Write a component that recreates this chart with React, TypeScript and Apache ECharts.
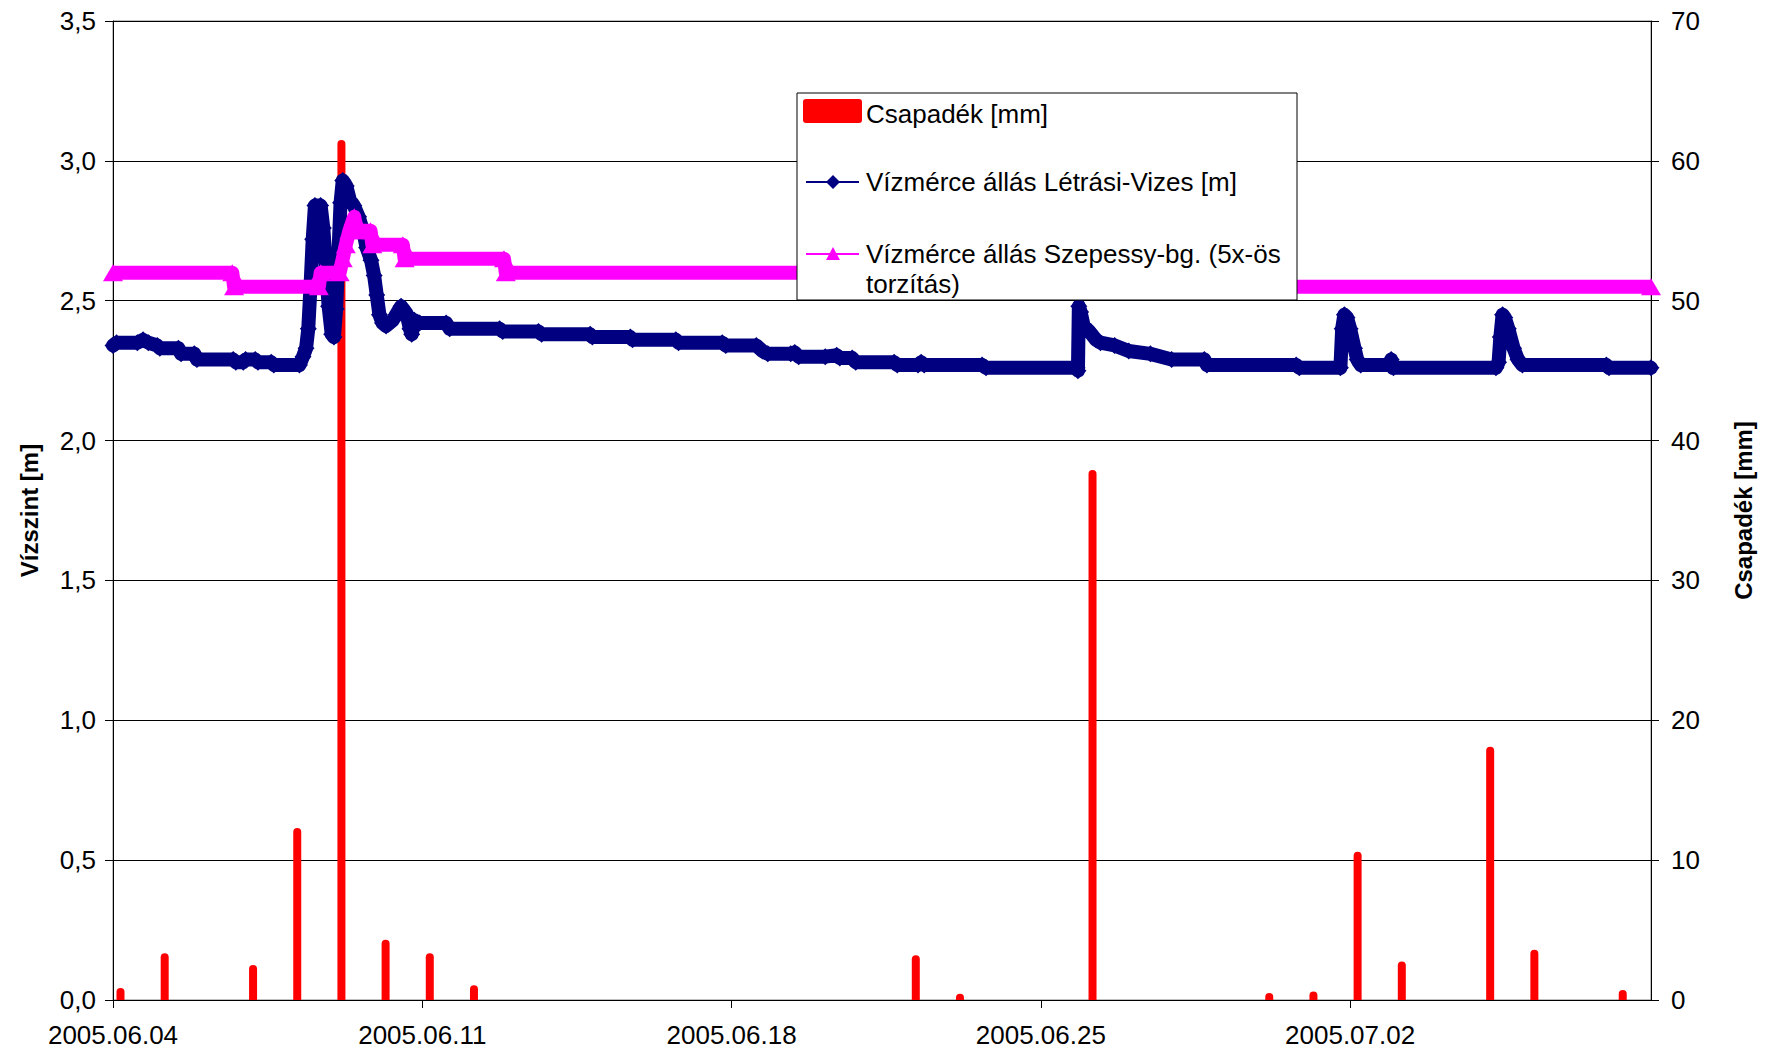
import React, { useEffect, useRef } from "react";
import * as echarts from "echarts";

// ---- data (x values are days since 2005-06-04 00:00) ----
const START_UTC = Date.UTC(2005, 5, 4);
const X_MAX_DAYS = 34.81;
const xTickDays = [0, 7, 14, 21, 28];

const rainDay = [0.17, 1.17, 3.17, 4.17, 5.17, 6.17, 7.17, 8.17, 18.17, 19.17, 22.17, 26.17, 27.17, 28.17, 29.17, 31.17, 32.17, 34.17];
const rainMm = [0.85, 3.35, 2.5, 12.3, 61.5, 4.3, 3.35, 1.05, 3.2, 0.45, 37.9, 0.5, 0.6, 10.6, 2.75, 18.1, 3.6, 0.72];

const letrasiDay = [
  0.0, 0.08, 0.55, 0.68, 0.8, 1.0, 1.06, 1.48, 1.54, 1.84, 1.9, 2.72, 2.78, 2.95, 3.0, 3.22, 3.28, 3.58, 3.64, 4.22,
  4.3, 4.37, 4.42, 4.47, 4.52, 4.57, 4.7, 4.76, 4.82, 4.88, 4.95, 5.0, 5.05, 5.1, 5.15, 5.2, 5.28, 5.36, 5.45, 5.56,
  5.66, 5.74, 5.84, 5.91, 5.97, 6.03, 6.1, 6.18, 6.33, 6.52, 6.64, 6.72, 6.76, 6.82, 6.94, 7.54, 7.62, 8.75, 8.82, 9.63,
  9.7, 10.8, 10.85, 11.71, 11.76, 12.74, 12.8, 13.79, 13.87, 14.56, 14.7, 14.82, 15.34, 15.43, 15.52, 16.12, 16.38, 16.45, 16.73, 16.81,
  17.68, 17.75, 18.22, 18.29, 18.36, 19.67, 19.76, 21.82, 21.84, 21.86, 21.9, 21.97, 22.1, 22.25, 22.35, 22.67, 22.99, 23.48, 23.96, 24.7,
  24.76, 26.78, 26.85, 27.78, 27.82, 27.87, 27.93, 28.0, 28.1, 28.16, 28.24, 28.88, 28.93, 28.98, 31.3, 31.36, 31.4, 31.45, 31.5, 31.58,
  31.7, 31.8, 31.9, 33.8, 33.86, 34.81,
];
const letrasiLevel = [
  2.34, 2.35, 2.35, 2.36, 2.35, 2.34, 2.33, 2.33, 2.31, 2.31, 2.29, 2.29, 2.28, 2.28, 2.29, 2.29, 2.28, 2.28, 2.27, 2.27,
  2.3, 2.33, 2.4, 2.55, 2.72, 2.84, 2.84, 2.76, 2.62, 2.48, 2.38, 2.37, 2.47, 2.66, 2.85, 2.93, 2.91, 2.86, 2.84, 2.8,
  2.75, 2.69, 2.645, 2.59, 2.52, 2.45, 2.42, 2.41, 2.43, 2.48, 2.455, 2.4, 2.38, 2.43, 2.42, 2.42, 2.4, 2.4, 2.39, 2.39,
  2.38, 2.38, 2.37, 2.37, 2.36, 2.36, 2.35, 2.35, 2.34, 2.34, 2.32, 2.31, 2.31, 2.315, 2.3, 2.3, 2.305, 2.295, 2.295, 2.28,
  2.28, 2.27, 2.27, 2.28, 2.27, 2.27, 2.26, 2.26, 2.25, 2.48, 2.46, 2.41, 2.39, 2.36, 2.35, 2.34, 2.32, 2.31, 2.29, 2.29,
  2.27, 2.27, 2.26, 2.26, 2.4, 2.45, 2.44, 2.4, 2.33, 2.29, 2.27, 2.27, 2.29, 2.26, 2.26, 2.28, 2.37, 2.45, 2.44, 2.4,
  2.33, 2.29, 2.27, 2.27, 2.26, 2.26,
];

const szepessyDay = [0.0, 2.7, 2.74, 4.66, 4.7, 5.13, 5.2, 5.27, 5.35, 5.46, 5.52, 5.83, 5.87, 6.56, 6.6, 8.85, 8.89, 20.0, 20.04, 34.81];
const szepessyLevel = [2.6, 2.6, 2.55, 2.55, 2.6, 2.6, 2.65, 2.7, 2.75, 2.8, 2.75, 2.75, 2.7, 2.7, 2.65, 2.65, 2.6, 2.6, 2.55, 2.55];

const RAIN_NAME = "Csapadék [mm]";
const LETRASI_NAME = "Vízmérce állás Létrási-Vizes [m]";
const SZEP_NAME_1 = "Vízmérce állás Szepessy-bg. (5x-ös";
const SZEP_NAME_2 = "torzítás)";

const FONT = "'Liberation Sans', Arial, Helvetica, sans-serif";
const NAVY = "#000080";
const MAGENTA = "#FF00FF";
const RED = "#FF0000";

function dayLabel(d: number): string {
  const dt = new Date(START_UTC + Math.round(d * 86400000));
  const mm = String(dt.getUTCMonth() + 1).padStart(2, "0");
  const dd = String(dt.getUTCDate()).padStart(2, "0");
  return `${dt.getUTCFullYear()}.${mm}.${dd}`;
}

export default function App() {
  const ref = useRef<HTMLDivElement>(null);

  useEffect(() => {
    if (!ref.current) return;
    const chart = echarts.init(ref.current, undefined, { renderer: "svg" });

    const rainData = rainDay.map((d, i) => [d, rainMm[i]]);
    const letrasiData = letrasiDay.map((d, i) => [d, letrasiLevel[i]]);
    const szepData = szepessyDay.map((d, i) => [d, szepessyLevel[i]]);

    const LX = 797, LY = 93, LW = 500, LH = 207;

    chart.setOption({
      animation: false,
      backgroundColor: "#ffffff",
      textStyle: { fontFamily: FONT },
      grid: {
        left: 113,
        top: 21,
        width: 1538,
        height: 979,
        show: true,
        borderColor: "#808080",
        borderWidth: 1,
        backgroundColor: "transparent",
      },
      xAxis: {
        type: "value",
        min: 0,
        max: X_MAX_DAYS,
        interval: 7,
        axisLine: { show: true, onZero: false, lineStyle: { color: "#000", width: 1 } },
        axisTick: { show: true, customValues: xTickDays, length: 8, lineStyle: { color: "#000" } },
        axisLabel: {
          customValues: xTickDays,
          formatter: (v: number) => dayLabel(v),
          fontSize: 26,
          color: "#000",
          fontFamily: FONT,
          margin: 22,
        },
        splitLine: { show: false },
      },
      yAxis: [
        {
          type: "value",
          position: "left",
          min: 0,
          max: 3.5,
          interval: 0.5,
          name: "Vízszint [m]",
          nameLocation: "middle",
          nameRotate: 90,
          nameGap: 72,
          nameTextStyle: { fontSize: 24, fontWeight: "bold", color: "#000", fontFamily: FONT },
          axisLine: { show: true, lineStyle: { color: "#000", width: 1 } },
          axisTick: { show: true, length: 8, lineStyle: { color: "#000" } },
          axisLabel: {
            formatter: (v: number) => v.toFixed(1).replace(".", ","),
            fontSize: 26,
            color: "#000",
            fontFamily: FONT,
            margin: 17,
          },
          splitLine: { show: true, lineStyle: { color: "#000", width: 1 } },
        },
        {
          type: "value",
          position: "right",
          min: 0,
          max: 70,
          interval: 10,
          name: RAIN_NAME,
          nameLocation: "middle",
          nameRotate: 90,
          nameGap: 80,
          nameTextStyle: { fontSize: 24, fontWeight: "bold", color: "#000", fontFamily: FONT },
          axisLine: { show: true, lineStyle: { color: "#000", width: 1 } },
          axisTick: { show: true, length: 8, lineStyle: { color: "#000" } },
          axisLabel: { fontSize: 26, color: "#000", fontFamily: FONT, margin: 20 },
          splitLine: { show: false },
        },
        {
          type: "value",
          position: "right",
          min: 0,
          max: 70,
          interval: 10,
          axisLine: { show: false },
          axisTick: { show: true, inside: true, length: 8, lineStyle: { color: "#000" } },
          axisLabel: { show: false },
          splitLine: { show: false },
        },
      ],
      series: [
        {
          name: RAIN_NAME,
          type: "bar",
          yAxisIndex: 1,
          data: rainData,
          barWidth: 8,
          itemStyle: { color: RED, borderRadius: [4, 4, 0, 0] },
          z: 2,
        },
        {
          name: LETRASI_NAME,
          type: "line",
          yAxisIndex: 0,
          data: letrasiData,
          symbol: "diamond",
          symbolSize: 17,
          showSymbol: true,
          lineStyle: { color: NAVY, width: 14, join: "round", cap: "round" },
          itemStyle: { color: NAVY },
          z: 3,
        },
        {
          name: SZEP_NAME_1 + " " + SZEP_NAME_2,
          type: "line",
          yAxisIndex: 0,
          data: szepData,
          symbol: "triangle",
          symbolSize: [20, 17],
          showSymbol: true,
          lineStyle: { color: MAGENTA, width: 14, join: "round" },
          itemStyle: { color: MAGENTA },
          z: 4,
        },
      ],
      graphic: [
        {
          type: "group",
          z: 100,
          children: [
            {
              type: "rect",
              shape: { x: LX, y: LY, width: LW, height: LH },
              style: { fill: "#fff", stroke: "#000", lineWidth: 1 },
              z: 100,
            },
            {
              type: "rect",
              shape: { x: LX + 6, y: LY + 6, width: 59, height: 24, r: 3 },
              style: { fill: RED },
              z: 101,
            },
            {
              type: "text",
              x: LX + 69,
              y: LY + 21,
              style: { text: RAIN_NAME, fontSize: 26, fontFamily: FONT, fill: "#000", textVerticalAlign: "middle" },
              z: 101,
            },
            {
              type: "line",
              shape: { x1: LX + 9, y1: LY + 89, x2: LX + 62, y2: LY + 89 },
              style: { stroke: NAVY, lineWidth: 2 },
              z: 101,
            },
            {
              type: "polygon",
              shape: { points: [[LX + 36, LY + 82], [LX + 43, LY + 89], [LX + 36, LY + 96], [LX + 29, LY + 89]] },
              style: { fill: NAVY },
              z: 102,
            },
            {
              type: "text",
              x: LX + 69,
              y: LY + 89,
              style: { text: LETRASI_NAME, fontSize: 26, fontFamily: FONT, fill: "#000", textVerticalAlign: "middle" },
              z: 101,
            },
            {
              type: "line",
              shape: { x1: LX + 9, y1: LY + 161, x2: LX + 62, y2: LY + 161 },
              style: { stroke: MAGENTA, lineWidth: 2 },
              z: 101,
            },
            {
              type: "polygon",
              shape: { points: [[LX + 36, LY + 154], [LX + 43, LY + 167], [LX + 29, LY + 167]] },
              style: { fill: MAGENTA },
              z: 102,
            },
            {
              type: "text",
              x: LX + 69,
              y: LY + 161,
              style: { text: SZEP_NAME_1, fontSize: 26, fontFamily: FONT, fill: "#000", textVerticalAlign: "middle" },
              z: 101,
            },
            {
              type: "text",
              x: LX + 69,
              y: LY + 191,
              style: { text: SZEP_NAME_2, fontSize: 26, fontFamily: FONT, fill: "#000", textVerticalAlign: "middle" },
              z: 101,
            },
          ],
        },
      ],
    });

    return () => chart.dispose();
  }, []);

  return (
    <div
      ref={ref}
      style={{ position: "fixed", left: 0, top: 0, width: 1767, height: 1051, background: "#fff" }}
    />
  );
}
